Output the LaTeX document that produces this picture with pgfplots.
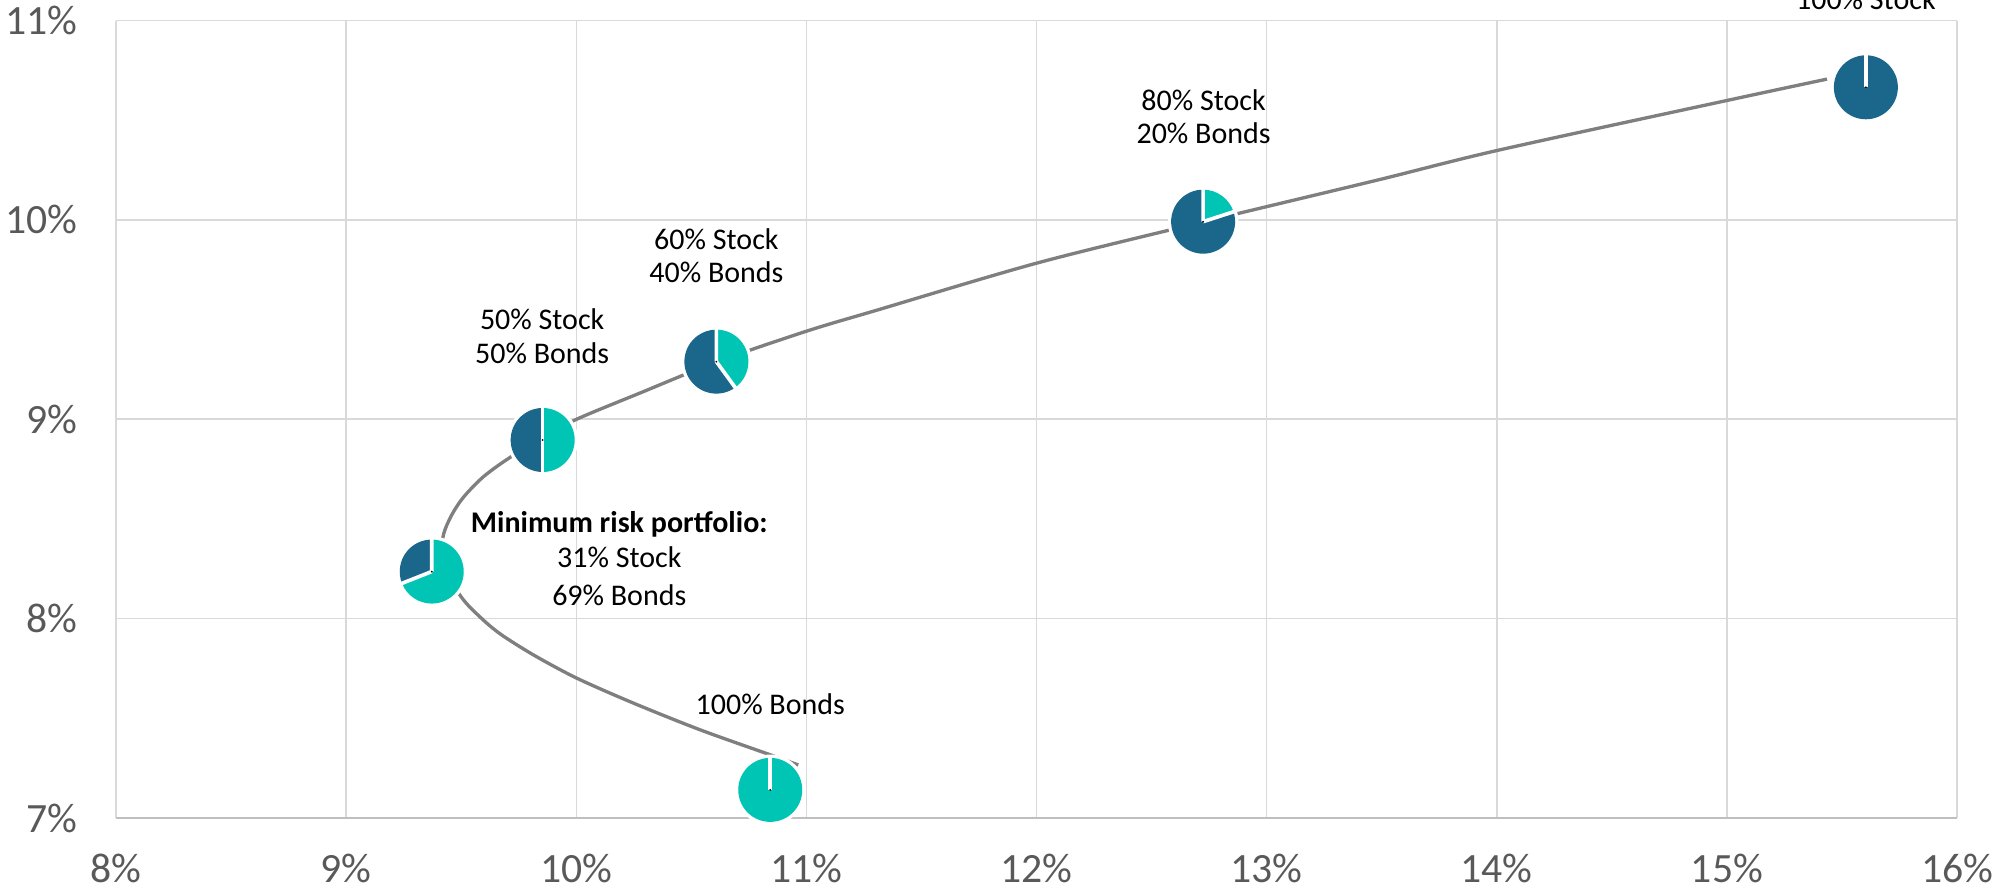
\documentclass[border=0pt]{standalone}
\usepackage{fontspec}
\setmainfont{Carlito}
\usepackage{pgfplots}
\pgfplotsset{compat=1.18}
\definecolor{dblue}{RGB}{27,103,139}
\definecolor{tealc}{RGB}{0,197,180}
\definecolor{linec}{RGB}{127,127,127}
\definecolor{gridc}{RGB}{217,217,217}
\definecolor{axisc}{RGB}{191,191,191}
\definecolor{labc}{RGB}{89,89,89}
\begin{document}
\begin{tikzpicture}
\begin{axis}[
  name=ax,
  scale only axis,
  width=552.3pt, height=239.25pt,
  xmin=8, xmax=16, ymin=7, ymax=11,
  xtick={8,...,16}, ytick={7,...,11},
  xticklabels={8\%,9\%,10\%,11\%,12\%,13\%,14\%,15\%,16\%},
  yticklabels={7\%,8\%,9\%,10\%,11\%},
  grid=major,
  major grid style={draw=gridc, line width=0.45pt},
  axis x line*=bottom,
  axis y line*=left,
  x axis line style={draw=axisc, line width=0.65pt, -},
  y axis line style={draw=none, -},
  major tick length=0pt,
  tick label style={font=\fontsize{12.5}{15}\selectfont, text=labc},
  xticklabel style={yshift=-7.3pt},
  yticklabel style={xshift=-8.1pt},
  clip=false,
]
\addplot[smooth, tension=0.5, draw=linec, line width=1pt, no marks] table {
x y
10.965 7.266
10.843 7.317
10.539 7.442
10.249 7.576
10.003 7.701
9.814 7.818
9.670 7.923
9.583 8.007
9.500 8.109
9.413 8.284
9.423 8.420
9.459 8.520
9.510 8.609
9.597 8.712
9.713 8.809
9.855 8.903
9.996 8.997
10.278 9.132
10.609 9.287
11.004 9.443
11.309 9.548
12.004 9.784
12.722 9.989
13.483 10.200
14.009 10.350
15.009 10.601
15.435 10.706
};
\addplot[only marks, scatter, mark=*, mark size=0.01pt,
  mark options={draw=none, fill=none},
  point meta=explicit, point meta min=0, point meta max=1,
  scatter/@pre marker code/.code={%
    \pgfmathsetmacro\pieA{90-360*(1-\pgfplotspointmetatransformed/1000)}%
    \path[fill=white, draw=none] (0pt,0pt) circle[radius=10.6pt];
    \path[fill=tealc, draw=none] (0pt,0pt) -- (90:9.6pt) arc[start angle=90, end angle=\pieA, radius=9.6pt] -- cycle;
    \path[fill=dblue, draw=none] (0pt,0pt) -- (\pieA:9.6pt) arc[start angle=\pieA, end angle=-270, radius=9.6pt] -- cycle;
    \path[draw=white, fill=none, line width=1.1pt] (0pt,0pt) -- (90:9.8pt) (0pt,0pt) -- (\pieA:9.8pt);
  },
  scatter/@post marker code/.code={},
] table[meta=s] {
x y s
10.843 7.141 0
9.372 8.236 0.31
9.854 8.896 0.5
10.609 9.289 0.6
12.724 9.991 0.8
15.604 10.665 1
};
\begin{scope}[every node/.style={font=\fontsize{9}{11}\selectfont, anchor=base, text=black, inner sep=0pt}]
\node at (axis cs:15.604,11.053) {100\% Stock};
\node at (axis cs:12.726,10.551) {80\% Stock};
\node at (axis cs:12.726,10.384) {20\% Bonds};
\node at (axis cs:10.609,9.852) {60\% Stock};
\node at (axis cs:10.609,9.684) {40\% Bonds};
\node at (axis cs:9.852,9.450) {50\% Stock};
\node at (axis cs:9.852,9.282) {50\% Bonds};
\node[font=\fontsize{9}{11}\selectfont\bfseries] at (axis cs:10.187,8.431) {Minimum risk portfolio:};
\node at (axis cs:10.187,8.258) {31\% Stock};
\node at (axis cs:10.187,8.064) {69\% Bonds};
\node at (axis cs:10.843,7.517) {100\% Bonds};
\end{scope}
\end{axis}
\pgfresetboundingbox
\useasboundingbox ([shift={(-34.8pt,-21.6pt)}]ax.south west) rectangle ([shift={(12pt,6.15pt)}]ax.north east);
\end{tikzpicture}
\end{document}
